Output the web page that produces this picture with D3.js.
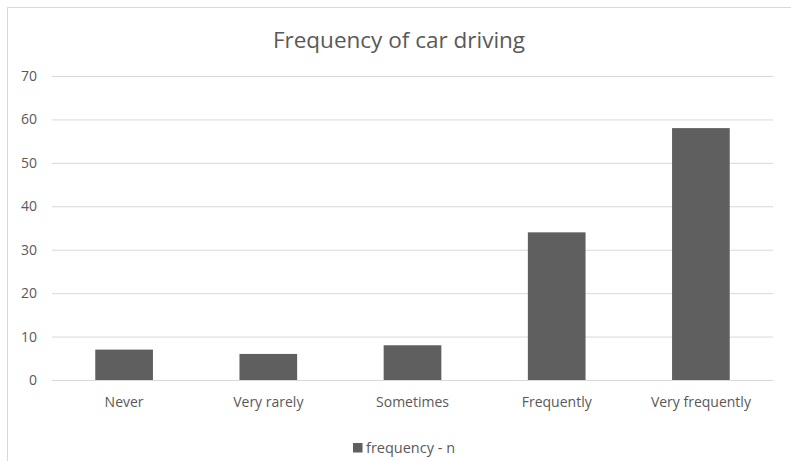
<!DOCTYPE html>
<html>
<head>
<meta charset="utf-8">
<script src="https://cdn.jsdelivr.net/npm/d3@7"></script>
<style>
  html, body { margin: 0; padding: 0; background: #ffffff; }
  svg { display: block; }
  text { font-family: "Open Sans", "Noto Sans", sans-serif; fill: #595959; }
</style>
</head>
<body>
<div id="chart"></div>
<script>
// Survey answers: how often respondents drive a car
const categories = ["Never", "Very rarely", "Sometimes", "Frequently", "Very frequently"];
const counts = [7, 6, 8, 34, 58];
const yTicks = [0, 10, 20, 30, 40, 50, 60, 70];
const chartTitle = "Frequency of car driving";
const seriesName = "frequency - n";

const W = 791, H = 461;
const plot = { left: 52, right: 773, top: 76, bottom: 380 };

const svg = d3.select("#chart").append("svg")
  .attr("width", W).attr("height", H);

// Chart frame (runs past the right and bottom edges of the page)
svg.append("rect")
  .attr("x", 7.5).attr("y", 7.5)
  .attr("width", W + 20).attr("height", H + 20)
  .attr("fill", "#ffffff")
  .attr("stroke", "#d9d9d9").attr("stroke-width", 1);

const x = d3.scaleBand()
  .domain(categories)
  .range([plot.left, plot.right])
  .padding(0);

const y = d3.scaleLinear()
  .domain([0, 70])
  .range([plot.bottom, plot.top]);

// Horizontal gridlines with value labels
const yAxis = d3.axisLeft(y)
  .tickValues(yTicks)
  .tickSize(-(plot.right - plot.left))
  .tickPadding(15)
  .tickFormat(d3.format("d"));

const gy = svg.append("g")
  .attr("transform", `translate(${plot.left},0)`)
  .call(yAxis);
gy.select(".domain").remove();
gy.selectAll(".tick line")
  .attr("stroke", "#d9d9d9").attr("stroke-width", 1);
gy.selectAll(".tick text")
  .attr("font-size", 14).attr("fill", "#595959");

// Bars take 40% of each category slot
const barFrac = 0.4;
const barW = x.bandwidth() * barFrac;

svg.append("g").selectAll("rect")
  .data(categories.map((c, i) => ({ c, v: counts[i] })))
  .join("rect")
  .attr("x", d => x(d.c) + (x.bandwidth() - barW) / 2)
  .attr("y", d => y(d.v))
  .attr("width", barW)
  .attr("height", d => y(0) - y(d.v))
  .attr("fill", "#5f5f5f");

// Category labels
const xAxis = d3.axisBottom(x).tickSize(0).tickPadding(17);
const gx = svg.append("g")
  .attr("transform", `translate(0,${plot.bottom})`)
  .call(xAxis);
gx.select(".domain").remove();
gx.selectAll(".tick text")
  .attr("font-size", 14).attr("fill", "#595959");

// Title
svg.append("text")
  .attr("x", 399).attr("y", 48)
  .attr("text-anchor", "middle")
  .attr("font-size", 22.5)
  .text(chartTitle);

// Legend
const legend = svg.append("g").attr("transform", "translate(353,443)");
legend.append("rect")
  .attr("width", 9.5).attr("height", 9.5)
  .attr("fill", "#5f5f5f");
legend.append("text")
  .attr("x", 13).attr("y", 10)
  .attr("font-size", 14.5)
  .text(seriesName);
</script>
</body>
</html>
